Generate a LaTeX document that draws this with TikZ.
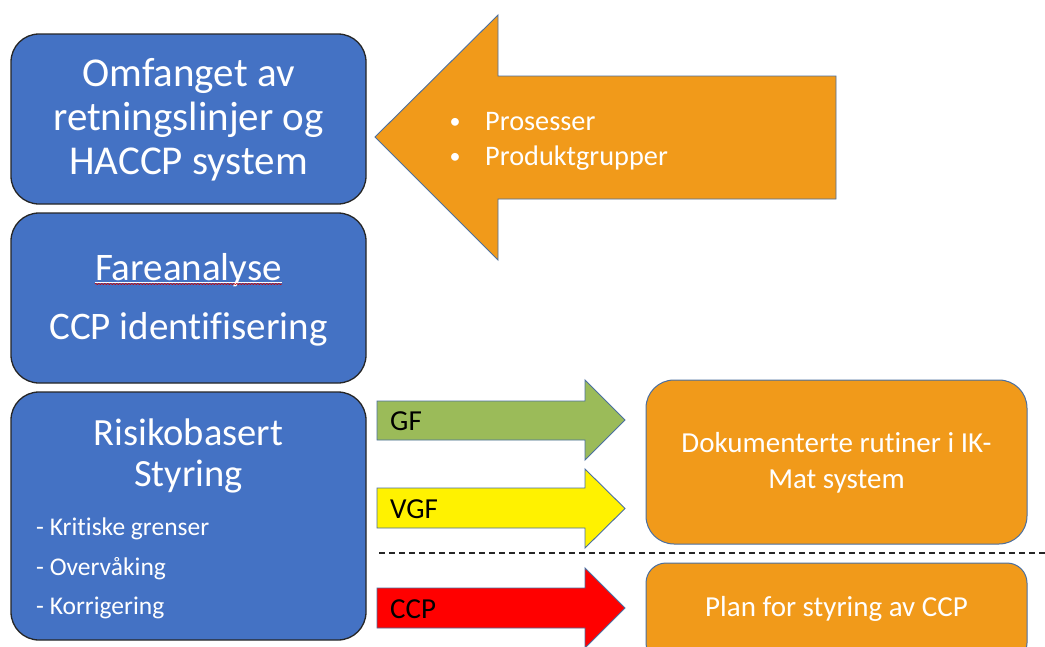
\documentclass[tikz,border=0pt]{standalone}
\usepackage{fontspec}
\setmainfont{Carlito}[Ligatures={NoCommon}]
\usetikzlibrary{decorations.pathmorphing}
\definecolor{boxblue}{HTML}{4472C4}
\definecolor{orng}{HTML}{F19A1A}
\definecolor{edgeblue}{HTML}{4A6FA0}
\definecolor{gfgreen}{HTML}{9BBB59}
\tikzset{
  bluebox/.style={draw=black!85, line width=1.3pt, fill=boxblue, rounded corners=28pt, inner sep=0pt},
  orangebox/.style={draw=edgeblue, line width=1pt, fill=orng, inner sep=0pt},
  bigtxt/.style={text=white, font=\fontsize{39}{44}\selectfont, align=center, inner sep=0pt},
  smalltxt/.style={text=white, font=\fontsize{25.5}{30}\selectfont, inner sep=0pt},
  arrtxt/.style={text=white, font=\fontsize{28.3}{32}\selectfont, inner sep=0pt},
  lbl/.style={text=black, font=\fontsize{29}{32}\selectfont, inner sep=0pt},
  otxt/.style={text=white, font=\fontsize{29}{36}\selectfont, align=center, inner sep=0pt},
  shapeedge/.style={draw=edgeblue, line width=0.9pt}
}
\begin{document}
\begin{tikzpicture}[x=1pt,y=-1pt]
\useasboundingbox (0,0) rectangle (1045,646);
\clip (0,0) rectangle (1045,646);
\fill[white] (0,0) rectangle (1045,646);

% blue boxes
\node[bluebox, minimum width=355pt, minimum height=170pt] (scope) at (188.5,119) {};
\node[bluebox, minimum width=355pt, minimum height=170pt] (hazard) at (188.5,298) {};
\node[bluebox, minimum width=355pt, minimum height=248pt] (risk) at (188.5,516) {};

\node[bigtxt, font=\fontsize{41}{44}\selectfont] (scopetxt) at (188.5,120) {Omfanget av\\retningslinjer og\\HACCP system};

\node[bigtxt, anchor=base] (fare) at (188.5,280) {Fareanalyse};
\node[bigtxt, anchor=base] (ccpid) at (188.5,339) {CCP identifisering};
\draw[white, line width=0.9pt] ([yshift=-2pt]fare.base west) -- ([yshift=-2pt]fare.base east);
\draw[red!80!black, line width=0.6pt, decorate, decoration={snake, amplitude=0.6pt, segment length=3pt}]
  ([yshift=-4pt]fare.base west) -- ([yshift=-4pt]fare.base east);

\node[bigtxt, anchor=base, font=\fontsize{38.5}{40}\selectfont] (risktxt) at (188.5,445) {Risikobasert};
\node[bigtxt, anchor=base, font=\fontsize{38.5}{40}\selectfont] (styr) at (188.5,486) {Styring};
\node[smalltxt, anchor=base west] (k1) at (36,535) {- Kritiske grenser};
\node[smalltxt, anchor=base west] (k2) at (36,575) {- Overvåking};
\node[smalltxt, anchor=base west] (k3) at (36,614) {- Korrigering};

% big orange arrow
\path[fill=orng, shapeedge] (375,137) -- (498,15) -- (498,76) -- (836,76) -- (836,199)
  -- (498,199) -- (498,260) -- cycle;
\node[arrtxt, anchor=base west] (proc) at (485,130) {Prosesser};
\node[arrtxt, anchor=base west] (prod) at (485,165) {Produktgrupper};
\node[arrtxt, anchor=base, font=\fontsize{22}{24}\selectfont] (b1) at (455,128) {\textbullet};
\node[arrtxt, anchor=base, font=\fontsize{22}{24}\selectfont] (b2) at (455,163) {\textbullet};

% small arrows
\path[fill=gfgreen, shapeedge] (377,401) -- (585,401) -- (585,380) -- (625,420) -- (585,460)
  -- (585,440) -- (377,440) -- cycle;
\path[fill=yellow, shapeedge] (377,488) -- (585,488) -- (585,469) -- (625,508.5) -- (585,548)
  -- (585,528) -- (377,528) -- cycle;
\path[fill=red, shapeedge] (377,588) -- (585,588) -- (585,568) -- (625,608) -- (585,648)
  -- (585,628) -- (377,628) -- cycle;
\node[lbl, anchor=base west] (gf) at (390,430) {GF};
\node[lbl, anchor=base west] (vgf) at (390,518) {VGF};
\node[lbl, anchor=base west] (ccp) at (390,618) {CCP};

% dashed separator
\coordinate (dl) at (379,553);
\coordinate (dr) at (1045,553);
\draw[black!85, line width=1.3pt, dash pattern=on 6pt off 4pt] (dl) -- (dr);

% orange boxes
\node[orangebox, rounded corners=28pt, minimum width=381pt, minimum height=164pt] (doc) at (836.5,462) {};
\node[otxt] (doctxt) at (836.5,463) {Dokumenterte rutiner i IK-\\Mat system};
\node[orangebox, rounded corners=20pt, minimum width=381pt, minimum height=100pt] (plan) at (836.5,613) {};
\node[otxt, anchor=base] (plantxt) at (836.5,616) {Plan for styring av CCP};
\end{tikzpicture}
\end{document}
